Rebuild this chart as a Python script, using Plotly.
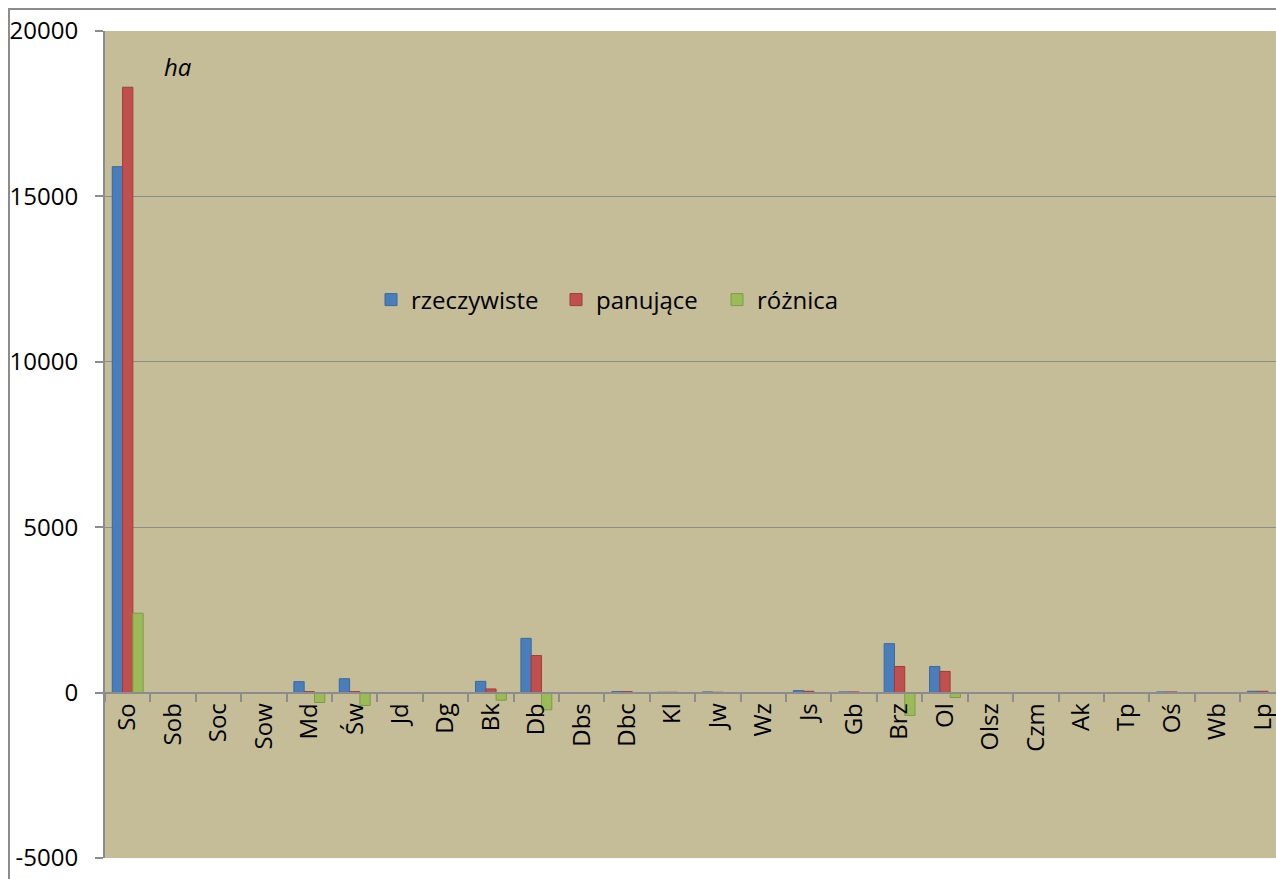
import plotly.graph_objects as go

categories = ["So", "Sob", "Soc", "Sow", "Md", "Św", "Jd", "Dg", "Bk", "Db", "Dbs", "Dbc", "Kl",
              "Jw", "Wz", "Js", "Gb", "Brz", "Ol", "Olsz", "Czm", "Ak", "Tp", "Oś", "Wb", "Lp"]
rzeczywiste = [15900, 0, 0, 0, 330, 420, 0, 0, 340, 1640, 0, 30, 10,
               20, 0, 60, 20, 1480, 790, 0, 0, 0, 0, 20, 0, 40]
panujace = [18300, 0, 0, 0, 30, 30, 0, 0, 110, 1120, 0, 30, 10,
            10, 0, 40, 20, 790, 640, 0, 0, 0, 0, 20, 0, 40]
roznica = [2400, 0, 0, 0, -300, -390, 0, 0, -230, -520, 0, 0, 0,
           -10, 0, -20, 0, -690, -150, 0, 0, 0, 0, 0, 0, 0]
y_ticks = [-5000, 0, 5000, 10000, 15000, 20000]

FONT = "Open Sans"
fig = go.Figure()
fig.add_bar(x=categories, y=rzeczywiste, name="rzeczywiste", legend="legend",
            marker=dict(color="#4A7EBB", line=dict(color="#3A68A0", width=1)))
fig.add_bar(x=categories, y=panujace, name="panujące", legend="legend2",
            marker=dict(color="#C0504D", line=dict(color="#A03C3A", width=1)))
fig.add_bar(x=categories, y=roznica, name="różnica", legend="legend3",
            marker=dict(color="#9BBB59", line=dict(color="#7E9C44", width=1)))

PL, PT, PB, PR = 105, 31, 858, 1276
W_PLOT = PR - PL
H_PLOT = PB - PT


def px_x(p):
    return (p - PL) / W_PLOT


def px_y(p):
    return (PB - p) / H_PLOT


leg_common = dict(orientation="h", yanchor="middle", xanchor="left",
                  bgcolor="rgba(0,0,0,0)", font=dict(size=24, family=FONT),
                  itemwidth=30)

fig.update_layout(
    width=1276, height=879,
    margin=dict(l=PL, r=1276 - PR, t=PT, b=879 - PB, autoexpand=False),
    paper_bgcolor="white",
    plot_bgcolor="#C5BD98",
    barmode="group",
    bargap=0.32,
    bargroupgap=0,
    font=dict(family=FONT, size=22, color="black"),
    showlegend=True,
    legend=dict(x=px_x(371), y=px_y(300), **leg_common),
    legend2=dict(x=px_x(556), y=px_y(300), **leg_common),
    legend3=dict(x=px_x(717), y=px_y(300), **leg_common),
    xaxis=dict(
        type="category", range=[-0.5, 25.29], automargin=False,
        anchor="free", position=0.2,
        showline=True, linecolor="#8C8C8C", linewidth=2,
        ticks="outside", tickson="boundaries", ticklen=8, tickcolor="#8C8C8C", tickwidth=2,
        tickangle=-90, tickfont=dict(size=24, family=FONT),
        ticklabeloverflow="allow",
        showgrid=False,
    ),
    yaxis=dict(
        range=[-5000, 20000], tickvals=y_ticks, ticktext=[str(v) for v in y_ticks],
        automargin=False,
        showgrid=True, gridcolor="#8C8C8C", gridwidth=1,
        zeroline=False,
        showline=True, linecolor="#8C8C8C", linewidth=2,
        ticks="outside", ticklen=8, tickcolor="#8C8C8C", tickwidth=2,
        ticklabelstandoff=12,
        tickfont=dict(size=24, family=FONT),
    ),
    annotations=[dict(text="ha", xref="paper", yref="paper", x=px_x(178), y=px_y(66),
                      showarrow=False, xanchor="center", yanchor="middle",
                      font=dict(size=24, family=FONT, style="italic"))],
    shapes=[dict(type="rect", xref="paper", yref="paper", x0=px_x(9), x1=1.2,
                 y0=-0.2, y1=px_y(9), line=dict(color="#8C8C8C", width=2), layer="below")],
)

fig.write_html("out.html",
               config={"displayModeBar": False},
               post_script="document.body.style.margin='0';document.body.style.overflow='hidden';")
